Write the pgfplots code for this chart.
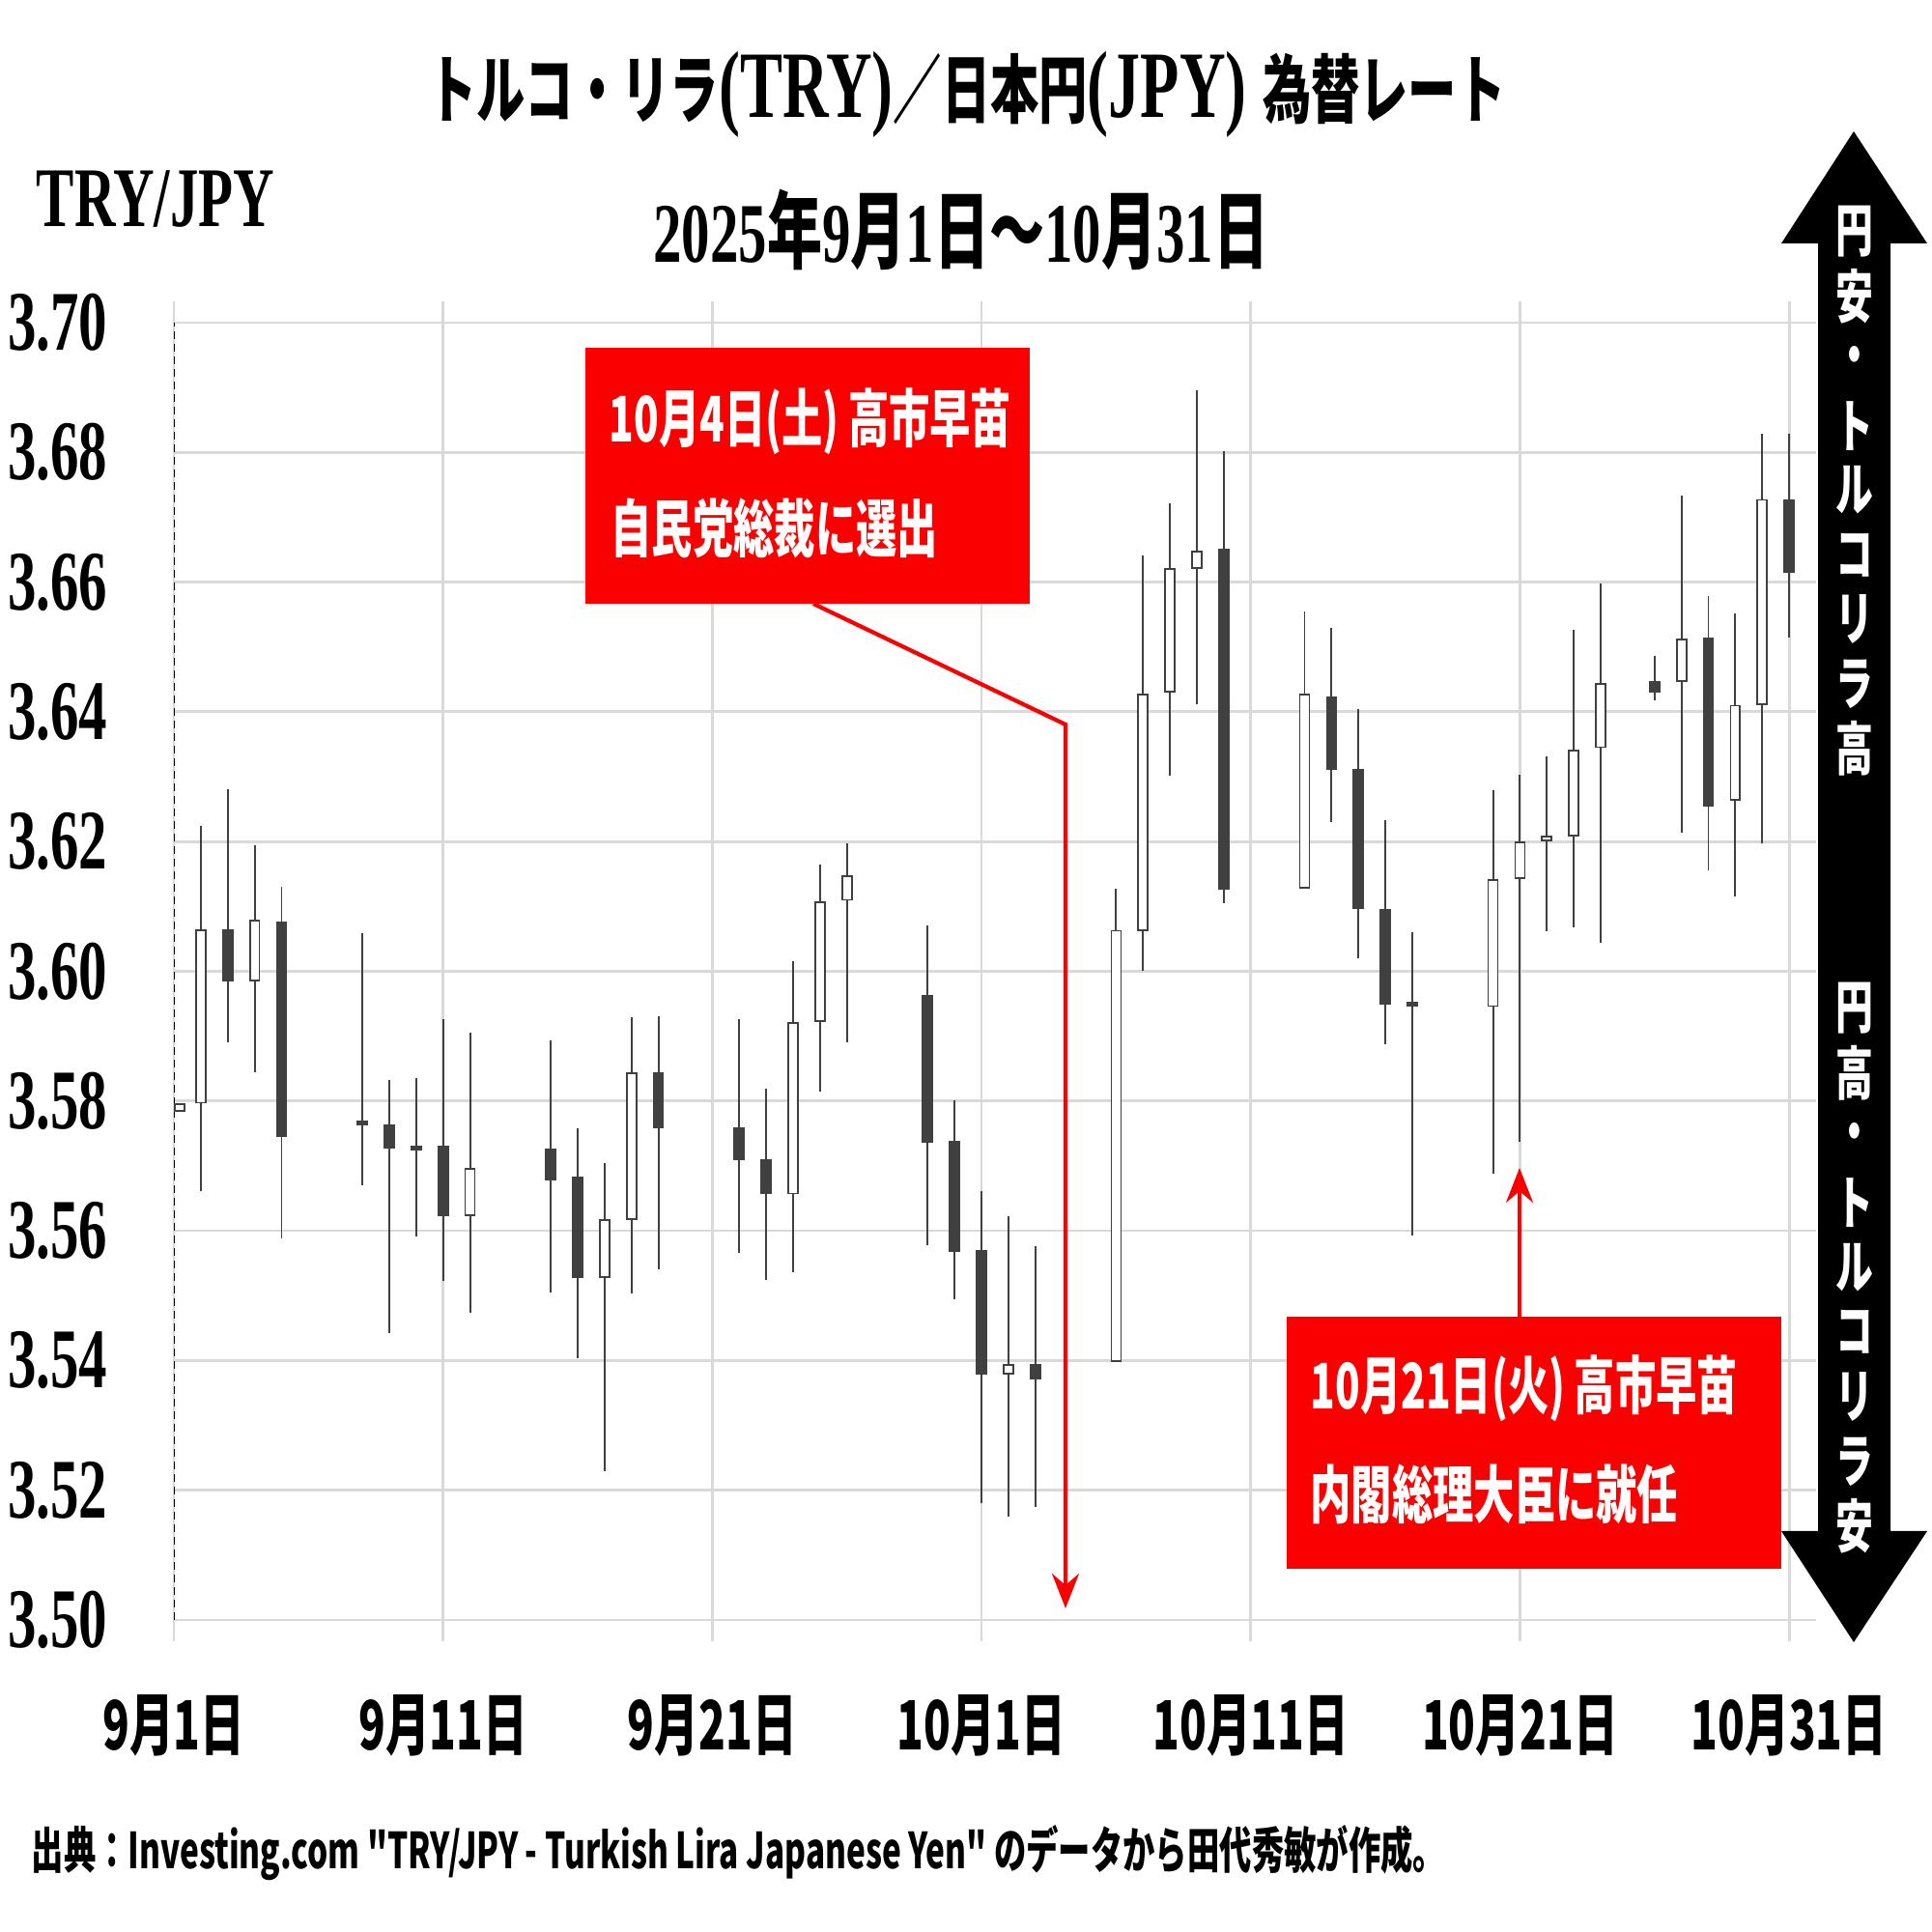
\documentclass[border=0pt]{standalone}
\usepackage{fontspec}
\usepackage{pgfplots}
\usepackage{pgfplotstable}
\pgfplotsset{compat=1.18}
\usetikzlibrary{arrows.meta}

\newfontfamily\jp{Noto Sans CJK JP}[FakeStretch=0.65]
\newfontfamily\sr{Liberation Serif}[FakeStretch=0.67]

\definecolor{gridgray}{RGB}{217,217,217}
\definecolor{candle}{RGB}{64,64,64}
\definecolor{note}{RGB}{250,0,0}

% day (0 = 9/1), open, high, low, close
\pgfplotstableread{
d     O      H      L      C
0.21  3.5784 3.5796 3.5784 3.5796
1     3.5796 3.6224 3.5661 3.6065
3     3.5984 3.6194 3.5844 3.6080
11    3.5623 3.5905 3.5474 3.5697
16    3.5527 3.5704 3.5229 3.5618
17    3.5617 3.5929 3.5503 3.5844
23    3.5656 3.6015 3.5536 3.5922
24    3.5922 3.6164 3.5814 3.6108
25    3.6109 3.6197 3.5890 3.6148
31    3.5378 3.5623 3.5159 3.5394
35    3.5398 3.6127 3.5398 3.6064
36    3.6062 3.6641 3.6000 3.6428
37    3.6430 3.6722 3.6301 3.6621
38    3.6620 3.6895 3.6412 3.6648
42    3.6127 3.6554 3.6127 3.6428
49    3.5945 3.6279 3.5688 3.6142
50    3.6142 3.6303 3.5737 3.6200
51    3.6201 3.6332 3.6062 3.6209
52    3.6208 3.6526 3.6068 3.6342
53    3.6344 3.6598 3.6044 3.6444
56    3.6446 3.6734 3.6214 3.6513
58    3.6263 3.6551 3.6116 3.6411
59    3.6410 3.6828 3.6197 3.6728
}\upcandles

\pgfplotstableread{
d     O      H      L      C
2     3.6065 3.6280 3.5890 3.5984
4     3.6077 3.6131 3.5588 3.5744
7     3.5770 3.6059 3.5670 3.5762
8     3.5764 3.5833 3.5442 3.5727
9     3.5731 3.5836 3.5591 3.5724
10    3.5731 3.5927 3.5522 3.5623
14    3.5726 3.5893 3.5505 3.5677
15    3.5683 3.5758 3.5404 3.5527
18    3.5844 3.5931 3.5541 3.5758
21    3.5759 3.5927 3.5566 3.5709
22    3.5711 3.5819 3.5524 3.5656
28    3.5963 3.6071 3.5578 3.5735
29    3.5738 3.5801 3.5495 3.5567
30    3.5570 3.5661 3.5180 3.5378
32    3.5395 3.5577 3.5174 3.5371
39    3.6651 3.6802 3.6105 3.6126
43    3.6424 3.6529 3.6230 3.6311
44    3.6312 3.6404 3.6020 3.6096
45    3.6096 3.6233 3.5888 3.5949
46    3.5953 3.6061 3.5592 3.5945
55    3.6447 3.6486 3.6418 3.6430
57    3.6514 3.6578 3.6155 3.6254
60    3.6728 3.6828 3.6515 3.6615
}\dncandles

\begin{document}
\begin{tikzpicture}
\path[use as bounding box] (0,0) rectangle (20,20);

\begin{axis}[
  at={(1.8cm,3.23cm)}, anchor=south west,
  scale only axis, width=17cm, height=13.43cm,
  xmin=0, xmax=61, ymin=3.5, ymax=3.7,
  xtick={0,10,20,30,40,50,60},
  xticklabels={9月1日,9月11日,9月21日,10月1日,10月11日,10月21日,10月31日},
  ytick={3.50,3.52,3.54,3.56,3.58,3.60,3.62,3.64,3.66,3.68,3.70},
  yticklabels={3.50,3.52,3.54,3.56,3.58,3.60,3.62,3.64,3.66,3.68,3.70},
  grid=major, grid style={draw=gridgray, line width=0.8pt},
  axis line style={draw=none},
  tick align=outside, major tick length=2.2mm,
  xtick style={draw=gridgray, line width=0.8pt},
  ytick style={draw=none},
  x tick label style={font=\jp\bfseries\fontsize{20}{24}\selectfont, anchor=center, yshift=-8.7mm},
  y tick label style={font=\sr\bfseries\fontsize{25}{30}\selectfont, anchor=east, inner sep=0pt, xshift=-4.6mm},
  wick/.style={draw=none, mark=none, error bars/.cd, y dir=plus, y explicit, error mark=none,
    error bar style={line width=0.55pt, draw=candle}},
  body/.style={draw=none, mark=none, error bars/.cd, y dir=plus, y explicit, error mark=none,
    error bar style={line width=#1, draw=candle}},
  inner/.style={draw=none, mark=none, error bars/.cd, y dir=plus, y explicit, error mark=none,
    error bar style={line width=0.82mm, draw=white}},
]
\draw[black, line width=0.5pt, dash pattern=on 0.8mm off 0.5mm] (axis cs:0,3.5) -- (axis cs:0,3.7);

% wicks
\addplot[wick] table[x=d, y=L, y error expr=\thisrow{H}-\thisrow{L}] {\upcandles};
\addplot[wick] table[x=d, y=L, y error expr=\thisrow{H}-\thisrow{L}] {\dncandles};
% bodies: rising candles open (white), falling candles filled
\addplot[body=1.17mm] table[x=d, y=O, y error expr=\thisrow{C}-\thisrow{O}] {\upcandles};
\addplot[inner] table[x=d, y expr=\thisrow{O}+0.00026, y error expr=\thisrow{C}-\thisrow{O}-0.00052] {\upcandles};
\addplot[body=1.17mm] table[x=d, y=C, y error expr=\thisrow{O}-\thisrow{C}] {\dncandles};
\end{axis}

% titles
\node at (10.01,19.02) {{\jp\bfseries\fontsize{22}{26}\selectfont トルコ・リラ}{\sr\bfseries\fontsize{28}{30}\selectfont (TRY)}{\jp\bfseries\fontsize{22}{26}\selectfont ／日本円}{\sr\bfseries\fontsize{28}{30}\selectfont (JPY) }{\jp\bfseries\fontsize{22}{26}\selectfont 為替レート}};
\node at (9.95,17.62) {{\sr\bfseries\fontsize{25}{30}\selectfont 2025}{\jp\bfseries\fontsize{25}{30}\selectfont 年}{\sr\bfseries\fontsize{25}{30}\selectfont 9}{\jp\bfseries\fontsize{25}{30}\selectfont 月}{\sr\bfseries\fontsize{25}{30}\selectfont 1}{\jp\bfseries\fontsize{25}{30}\selectfont 日～}{\sr\bfseries\fontsize{25}{30}\selectfont 10}{\jp\bfseries\fontsize{25}{30}\selectfont 月}{\sr\bfseries\fontsize{25}{30}\selectfont 31}{\jp\bfseries\fontsize{25}{30}\selectfont 日}};
\node[font=\sr\bfseries\fontsize{25}{30}\selectfont] at (1.61,17.94) {TRY/JPY};

% source
\node[anchor=west, inner sep=0pt, font=\jp\bfseries\fontsize{14.6}{18}\selectfont] at (0.32,0.82)
  {出典：Investing.com "TRY/JPY - Turkish Lira Japanese Yen" のデータから田代秀敏が作成。};

% annotation 1
\draw[note, line width=1.2pt, -{Stealth[length=3.6mm, width=2.8mm, inset=1.2mm]}]
  (8.42,13.75) -- (11.03,12.50) -- (11.03,3.35);
\fill[note] (6.06,13.75) rectangle (10.66,16.40);
\node[anchor=west, inner sep=0pt, text=white, font=\jp\bfseries\fontsize{18.5}{22}\selectfont] at (6.30,15.64) {10月4日(土) 高市早苗};
\node[anchor=west, inner sep=0pt, text=white, font=\jp\bfseries\fontsize{18.5}{22}\selectfont] at (6.32,14.53) {自民党総裁に選出};

% annotation 2
\draw[note, line width=1.2pt, -{Stealth[length=3.6mm, width=2.8mm, inset=1.2mm]}]
  (15.73,6.37) -- (15.73,7.91);
\fill[note] (13.32,3.76) rectangle (18.44,6.37);
\node[anchor=west, inner sep=0pt, text=white, font=\jp\bfseries\fontsize{18.5}{22}\selectfont] at (13.56,5.63) {10月21日(火) 高市早苗};
\node[anchor=west, inner sep=0pt, text=white, font=\jp\bfseries\fontsize{18.5}{22}\selectfont] at (13.56,4.53) {内閣総理大臣に就任};

% double arrow on the right
\fill[black] (19.19,18.64) -- (19.95,17.48) -- (19.57,17.48) -- (19.57,4.15) -- (19.95,4.15)
  -- (19.19,3.00) -- (18.44,4.15) -- (18.82,4.15) -- (18.82,17.48) -- (18.44,17.48) -- cycle;
\foreach \c [count=\i from 0] in {円,安,・,ト,ル,コ,リ,ラ,高}
  \node[text=white, inner sep=0pt, font=\jp\bfseries\fontsize{17}{20}\selectfont] at (19.2,{17.60-0.669*\i}) {\c};
\foreach \c [count=\i from 0] in {円,高,・,ト,ル,コ,リ,ラ,安}
  \node[text=white, inner sep=0pt, font=\jp\bfseries\fontsize{17}{20}\selectfont] at (19.2,{9.56-0.67*\i}) {\c};
\end{tikzpicture}
\end{document}
